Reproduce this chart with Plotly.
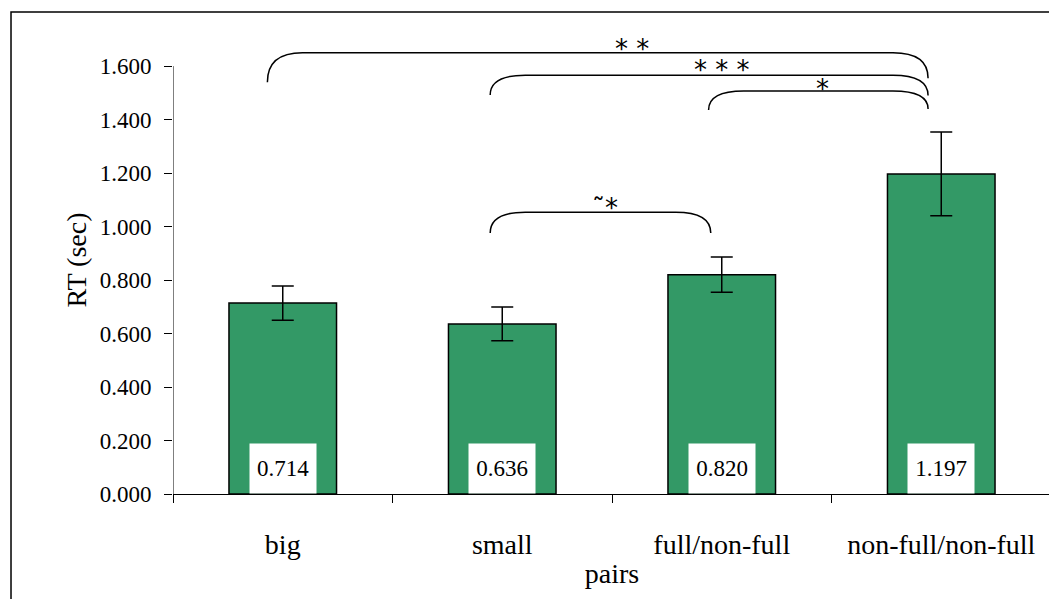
import plotly.graph_objects as go

categories = ["big", "small", "full/non-full", "non-full/non-full"]
rt_means = [0.714, 0.636, 0.820, 1.197]
rt_errors = [0.064, 0.063, 0.066, 0.157]
value_labels = ["0.714", "0.636", "0.820", "1.197"]
y_ticks = [0.0, 0.2, 0.4, 0.6, 0.8, 1.0, 1.2, 1.4, 1.6]
y_ticktext = ["0.000", "0.200", "0.400", "0.600", "0.800", "1.000", "1.200", "1.400", "1.600"]

# significance brackets
br_left = [-0.07, 0.945, 1.94, 0.945]
br_right = [2.94, 2.94, 2.94, 1.95]
br_top = [1.65, 1.566, 1.507, 1.054]
br_left_end = [1.54, 1.492, 1.436, 0.976]
br_right_end = [1.555, 1.49, 1.44, 0.976]
br_label = ["* *", "* * *", "*", "˜*"]
br_label_x = [1.59, 2.0, 2.46, 1.47]
br_label_y = [1.686, 1.607, 1.536, 1.092]

SERIF = "Liberation Serif"
xpos = list(range(len(categories)))

fig = go.Figure()
fig.add_trace(go.Bar(
    x=xpos, y=rt_means, width=0.49,
    marker=dict(color="#339966", line=dict(color="black", width=1.5)),
    error_y=dict(type="data", array=rt_errors, visible=True, color="black",
                 thickness=1.5, width=11),
    showlegend=False, hoverinfo="skip",
))

shapes = []
shapes.append(dict(type="line", xref="x", yref="y", x0=-0.5, x1=-0.5, y0=0, y1=y_ticks[-1],
                   line=dict(color="black", width=1)))
shapes.append(dict(type="rect", xref="paper", yref="paper", x0=-0.1845, x1=1.0057, y0=-0.4, y1=1.03,
                   line=dict(color="black", width=1.5), fillcolor="rgba(0,0,0,0)"))

dx = 0.16
for l, r, t, le, re_ in zip(br_left, br_right, br_top, br_left_end, br_right_end):
    path = (f"M {l},{le} Q {l},{t} {l+dx},{t} L {r-dx},{t} Q {r},{t} {r},{re_}")
    shapes.append(dict(type="path", xref="x", yref="y", path=path,
                       line=dict(color="black", width=1.5)))

annotations = []
for x, txt in zip(xpos, value_labels):
    annotations.append(dict(x=x, y=0, xref="x", yref="y", text=txt, showarrow=False,
                            xanchor="center", yanchor="bottom", width=64, height=47,
                            bgcolor="white", font=dict(family=SERIF, size=23, color="black")))
for x, y, txt in zip(br_label_x, br_label_y, br_label):
    annotations.append(dict(x=x, y=y, xref="x", yref="y", text=txt, showarrow=False,
                            xanchor="center", yanchor="middle", yshift=-6,
                            font=dict(family="DejaVu Sans", size=26, color="black")))

fig.update_layout(
    width=1057, height=599,
    margin=dict(l=165, r=14, t=18, b=113),
    paper_bgcolor="white", plot_bgcolor="white",
    bargap=0.5,
    shapes=shapes, annotations=annotations,
    font=dict(family=SERIF, color="black"),
    xaxis=dict(range=[-0.5, 3.5], tickvals=xpos, ticktext=categories, ticks="",
               showline=True, linecolor="black", linewidth=1, showgrid=False, zeroline=False,
               tickfont=dict(family=SERIF, size=28), ticklabelstandoff=25,
               minor=dict(tickvals=[-0.5, 0.5, 1.5, 2.5, 3.5], ticks="outside", ticklen=8,
                          tickcolor="black", tickwidth=1, showgrid=False),
               title=dict(text="pairs", font=dict(family=SERIF, size=28), standoff=4)),
    yaxis=dict(range=[0, 1.75], tickvals=y_ticks, ticktext=y_ticktext, ticks="outside",
               ticklen=8, tickcolor="black", tickwidth=1, showline=False, showgrid=False,
               zeroline=False, tickfont=dict(family=SERIF, size=23), ticklabelstandoff=8,
               title=dict(text="RT (sec)", font=dict(family=SERIF, size=28), standoff=4)),
)

fig.write_html("out.html")
